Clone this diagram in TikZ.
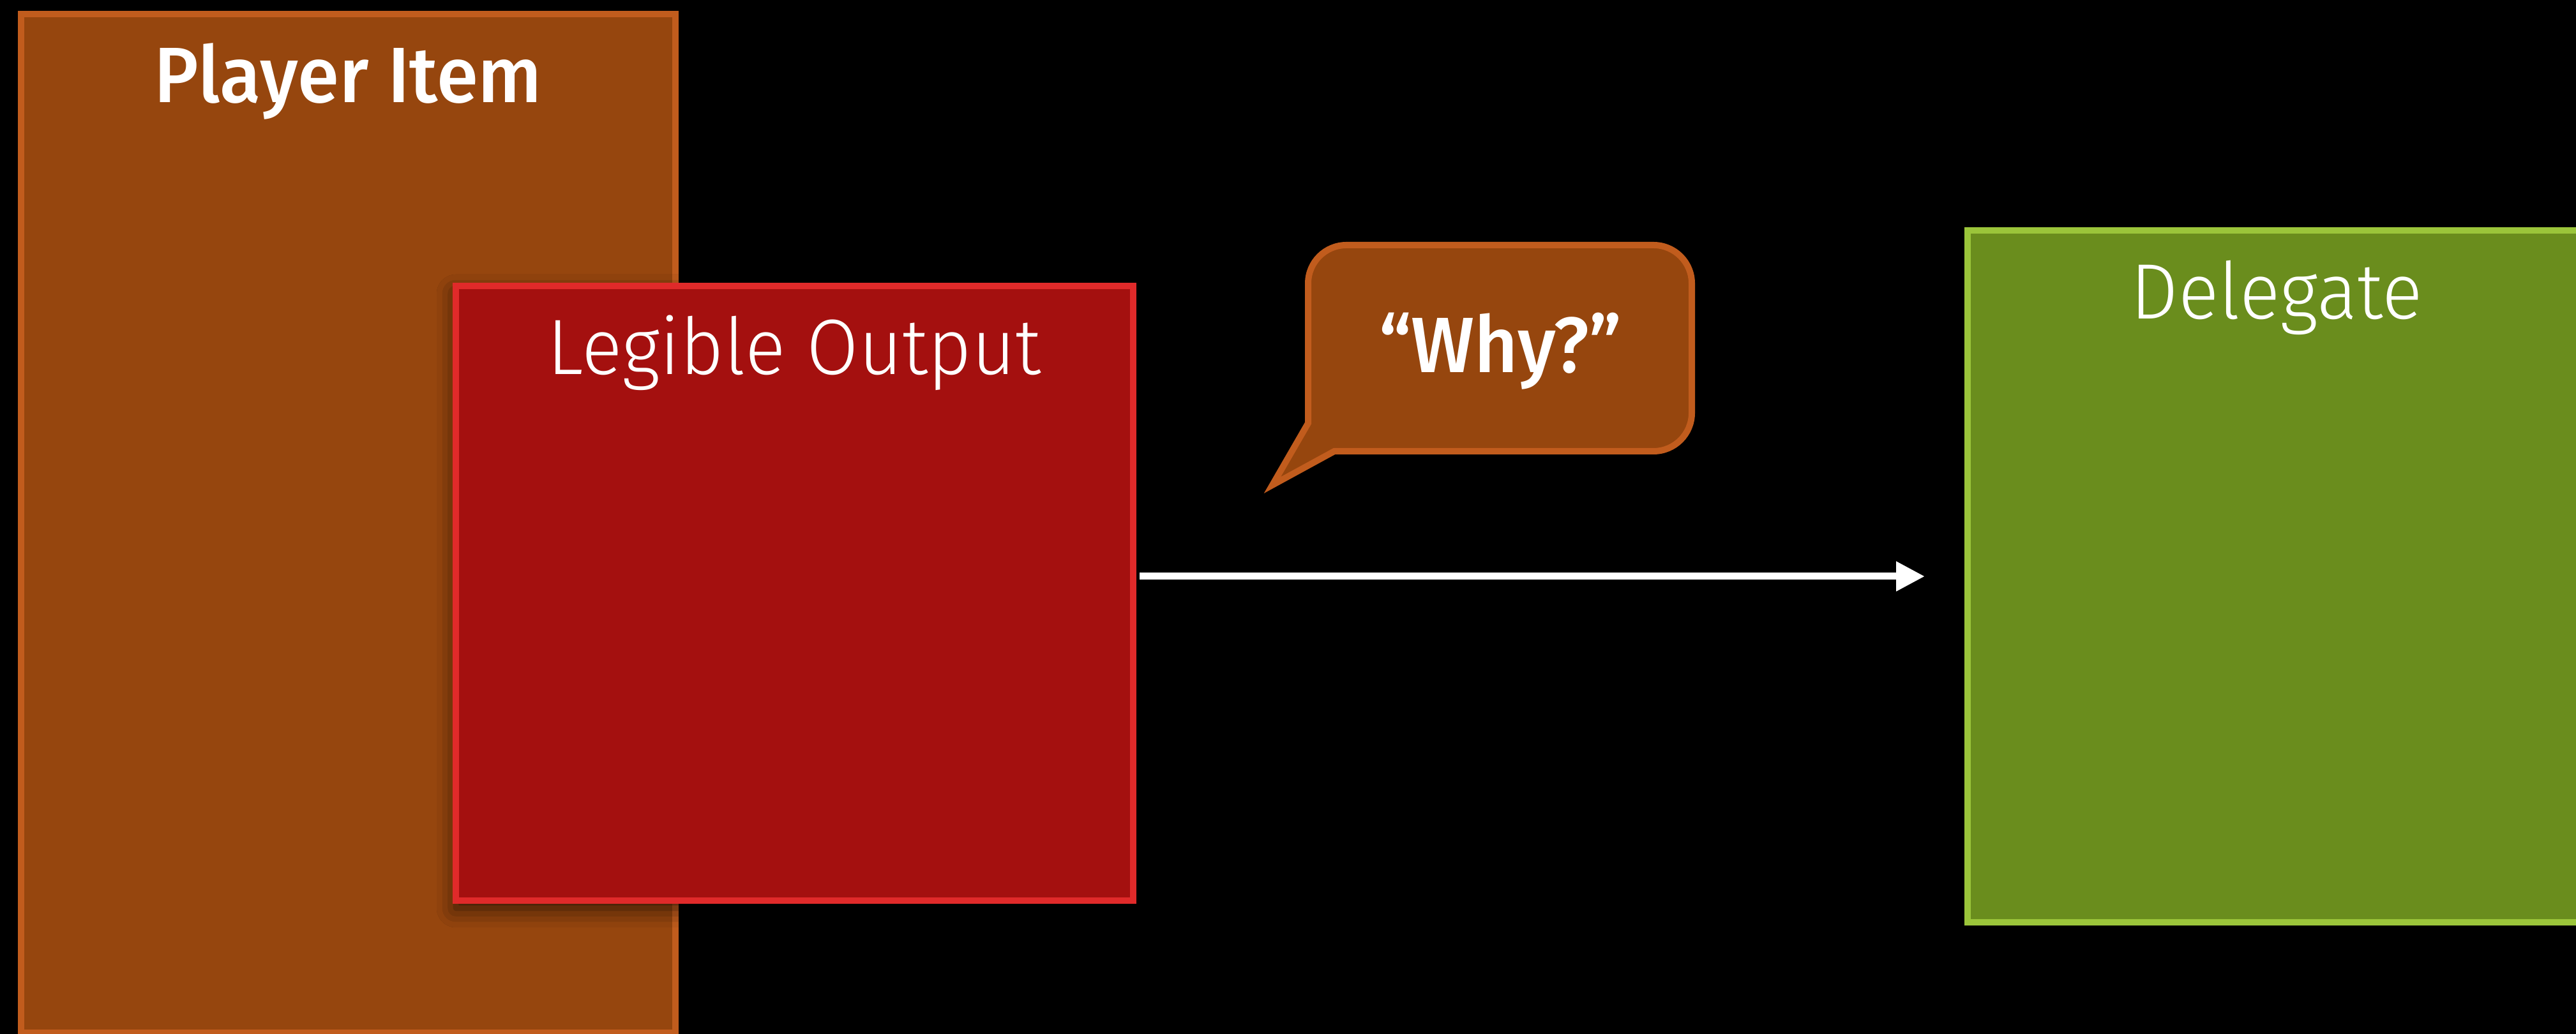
\documentclass[tikz,border=0pt]{standalone}
\usepackage{fontspec}
\setmainfont{Fira Sans}[FakeStretch=0.96]
\IfFontExistsTF{Fira Sans Light}{\newfontfamily\lightfont{Fira Sans Light}[FakeStretch=0.96]}{\newfontfamily\lightfont{Fira Sans}[FakeStretch=0.96]}
\IfFontExistsTF{Fira Sans Medium}{\newfontfamily\heavyfont{Fira Sans Medium}[FakeStretch=0.96]}{\newfontfamily\heavyfont{Fira Sans}[FakeStretch=0.96]}
\usetikzlibrary{arrows.meta,shadows.blur}

\definecolor{itemfill}{RGB}{150,70,14}
\definecolor{itemline}{RGB}{193,92,29}
\definecolor{outfill}{RGB}{164,16,15}
\definecolor{outline}{RGB}{224,42,42}
\definecolor{delfill}{RGB}{106,141,29}
\definecolor{delline}{RGB}{155,197,58}

\begin{document}
\begin{tikzpicture}
	\tikzstyle{box} = [rectangle,line width=1mm,inner sep=0pt]
	\tikzstyle{title} = [anchor=base,text=white,inner sep=0pt,font=\fontsize{35}{42}\selectfont\heavyfont]
	\tikzstyle{thin} = [font=\fontsize{35}{42}\selectfont\lightfont]
	% background
	\fill[black] (0,0) rectangle (40.35,16.2);
	\useasboundingbox (0,0) rectangle (40.35,16.2);
	% player item
	\node[box,draw=itemline,fill=itemfill,minimum width=10.25cm,minimum height=15.96cm] (item) at (5.455,8.0) {};
	\node[title] (itemtitle) at ([yshift=-1.44cm]item.north) {Player Item};
	% legible output
	\node[box,draw=outline,fill=outfill,minimum width=10.61cm,minimum height=9.63cm,
		blur shadow={shadow xshift=0cm,shadow yshift=-0.12cm,shadow blur radius=0.3cm,shadow opacity=70}] (output) at (12.445,6.905) {};
	\node[title,thin] (outputtitle) at ([yshift=-1.44cm]output.north) {Legible Output};
	% delegate
	\node[box,draw=delline,fill=delfill,minimum width=9.68cm,minimum height=10.84cm] (delegate) at (35.66,7.17) {};
	\node[title,thin] (delegatetitle) at ([yshift=-1.44cm]delegate.north) {Delegate};
	% speech bubble
	\coordinate (tailtop) at (20.49,9.57);
	\coordinate (tailtip) at (19.93,8.60);
	\coordinate (tailbot) at (20.90,9.13);
	\draw[line width=1mm,draw=itemline,fill=itemfill,line join=miter]
		(tailtop) -- (20.49,11.76) arc (180:90:0.6) -- (25.90,12.36) arc (90:0:0.6)
		-- (26.50,9.73) arc (0:-90:0.6) -- (tailbot) -- (tailtip) -- cycle;
	\node[title] (why) at (23.50,10.36) {“Why?”};
	% arrow output->delegate
	\draw[-{Triangle[length=0.45cm,width=0.44cm]},white,line width=1.1mm,shorten <=0.05cm,shorten >=0.62cm]
		(output.east |- delegate.west) -- (delegate.west);
\end{tikzpicture}
\end{document}
